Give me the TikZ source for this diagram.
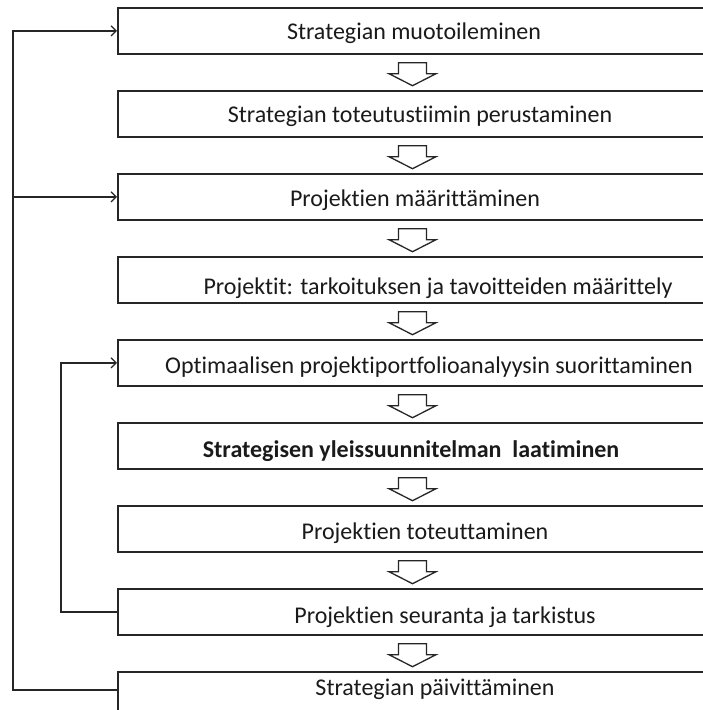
\documentclass[tikz,border=0pt]{standalone}
\usepackage{fontspec}
\setmainfont{Carlito}[Ligatures={NoCommon,NoContextual}]
\usetikzlibrary{arrows.meta,calc}

\tikzset{
  stepbox/.style={draw=boxline, line width=1.7pt, rectangle, anchor=north west,
    minimum width=640pt, minimum height=46pt, inner sep=0pt},
  lbl/.style={anchor=base, inner sep=0pt, text=txtcol,
    font=\fontsize{24}{28}\selectfont},
  lblbold/.style={lbl, font=\fontsize{24}{28}\selectfont\bfseries},
  fb/.style={draw=boxline, line width=1.5pt},
  fbarrow/.style={fb, -{Straight Barb[length=5pt,width=10pt,line width=1.3pt]}},
  downarrow/.style={draw=boxline, line width=1.3pt, fill=white, line join=miter}
}
\definecolor{boxline}{HTML}{262626}
\definecolor{txtcol}{HTML}{1A1A1A}

% hollow block arrow below a box, centred at x = 412.5
\newcommand{\blockdown}[1]{%
  \draw[downarrow]
    ($(#1.south west)+(281.5,8)$) -- ($(#1.south west)+(309.5,8)$)
    -- ($(#1.south west)+(309.5,19)$) -- ($(#1.south west)+(319,19)$)
    -- ($(#1.south west)+(295.5,31)$) -- ($(#1.south west)+(272,19)$)
    -- ($(#1.south west)+(281.5,19)$) -- cycle;}

\begin{document}
\begin{tikzpicture}[x=1pt,y=-1pt]
  \useasboundingbox (0,0) rectangle (703,710);
  \fill[white] (0,0) rectangle (703,710);
  \clip (0,0) rectangle (703,710);

  % process steps
  \node[stepbox] (b1) at (117,7)   {};
  \node[stepbox] (b2) at (117,90)  {};
  \node[stepbox] (b3) at (117,173) {};
  \node[stepbox] (b4) at (117,256) {};
  \node[stepbox] (b5) at (117,339) {};
  \node[stepbox] (b6) at (117,422) {};
  \node[stepbox] (b7) at (117,505) {};
  \node[stepbox] (b8) at (117,588) {};
  \node[stepbox] (b9) at (117,671) {};

  % step labels
  \node[lbl] (t1) at (414,39)  {Strategian muotoileminen};
  \node[lbl] (t2) at (420,122) {Strategian toteutustiimin perustaminen};
  \node[lbl] (t3) at (415,206) {Projektien määrittäminen};
  \node[lbl] (t4) at (438,294) {Projektit: tarkoituksen ja tavoitteiden määrittely};
  \node[lbl] (t5) at (429,373) {Optimaalisen projektiportfolioanalyysin suorittaminen};
  \node[lblbold] (t6) at (411,457) {Strategisen yleissuunnitelman\ \ laatiminen};
  \node[lbl] (t7) at (425,539) {Projektien toteuttaminen};
  \node[lbl] (t8) at (445,623) {Projektien seuranta ja tarkistus};
  \node[lbl] (t9) at (435,695) {Strategian päivittäminen};

  % arrows between consecutive steps
  \foreach \b in {b1,b2,b3,b4,b5,b6,b7,b8} {\blockdown{\b}}

  % feedback loops
  \coordinate (outer) at (13,0);
  \coordinate (inner) at (61,0);
  \coordinate (b9in) at ($(b9.north west)+(0,19)$);
  \draw[fbarrow] (b9in) -| (outer |- b1.west) -- (b1.west);
  \draw[fbarrow] (outer |- b3.west) -- (b3.west);
  \draw[fbarrow] (b8.west) -| (inner |- b5.west) -- (b5.west);
\end{tikzpicture}
\end{document}
